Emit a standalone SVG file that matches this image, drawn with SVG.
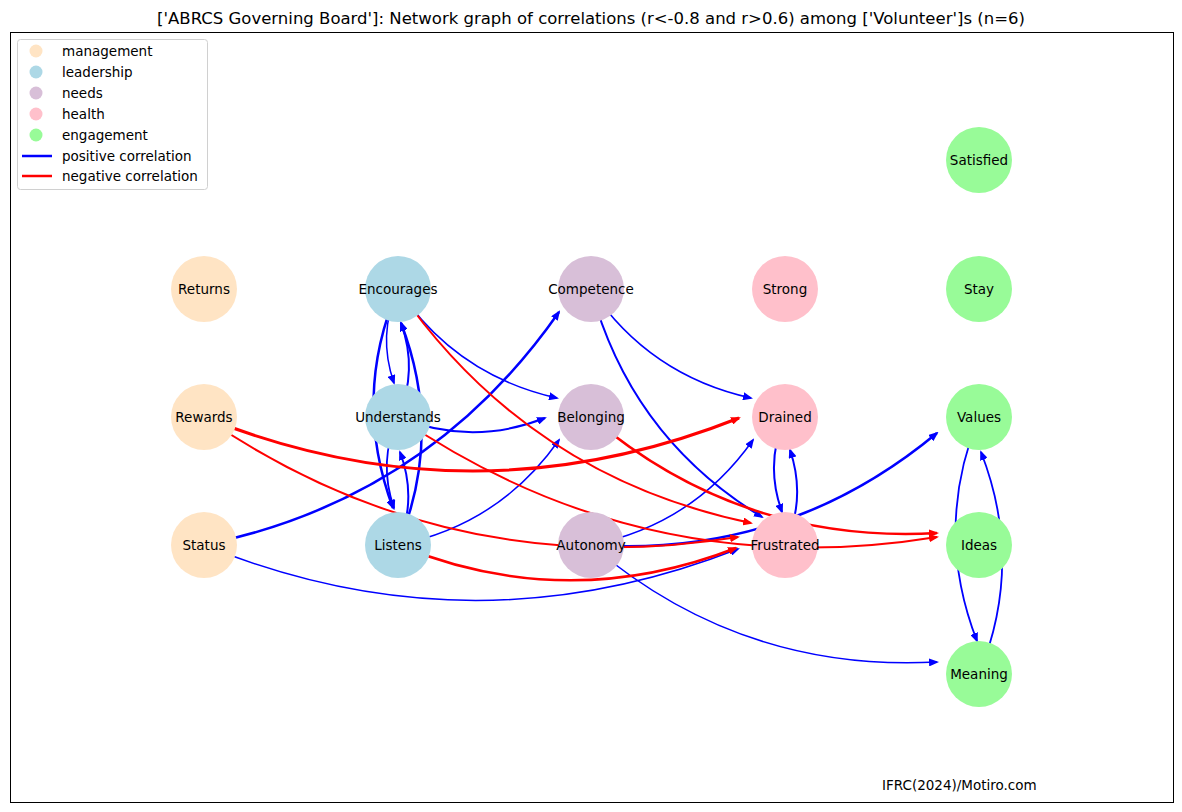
<svg xmlns="http://www.w3.org/2000/svg" width="1182" height="812" viewBox="0 0 1182 812">
<style>
.t{font-family:"DejaVu Sans","Liberation Sans",sans-serif;font-size:13.5px;fill:#000}
.nl{text-anchor:middle}
.p{fill:none;stroke:#0000ff}
.n{fill:none;stroke:#ff0000}
.pm{marker-end:url(#ab)}
.nm{marker-end:url(#ar)}
</style>
<defs>
<marker id="ab" markerUnits="userSpaceOnUse" viewBox="0 0 10 8" markerWidth="10" markerHeight="8" refX="8" refY="4" orient="auto"><path d="M0,0 L10,4 L0,8 z" fill="#0000ff"/></marker>
<marker id="ar" markerUnits="userSpaceOnUse" viewBox="0 0 10 8" markerWidth="10" markerHeight="8" refX="8" refY="4" orient="auto"><path d="M0,0 L10,4 L0,8 z" fill="#ff0000"/></marker>
</defs>
<rect width="1182" height="812" fill="#fff"/>
<text x="591" y="24" text-anchor="middle" font-family="DejaVu Sans, Liberation Sans, sans-serif" font-size="16.5px">['ABRCS Governing Board']: Network graph of correlations (r&lt;-0.8 and r&gt;0.6) among ['Volunteer']s (n=6)</text>
<rect x="10.5" y="32.5" width="1163" height="770" fill="none" stroke="#000" stroke-width="1"/>
<g id="edges">
<path class="p pm" stroke-width="2.5" d="M204,545 Q428.1,499.5 559,312"/>
<path class="p pm" stroke-width="1.5" d="M204,545 Q470.2,653.8 738,549"/>
<path class="p pm" stroke-width="1.5" d="M398,289 Q377.2,335.2 394,383"/>
<path class="p pm" stroke-width="2" d="M398,417 Q418.3,370.6 401,323"/>
<path class="p pm" stroke-width="2.5" d="M398,289 Q351.7,397.5 393,508"/>
<path class="p pm" stroke-width="2.5" d="M398,545 Q443.9,434.6 401,323"/>
<path class="p pm" stroke-width="1.8" d="M398,417 Q377.8,461.7 394,508"/>
<path class="p pm" stroke-width="2" d="M398,545 Q417.6,498.9 400,452"/>
<path class="p pm" stroke-width="1.5" d="M398,289 Q455.7,375.3 557,398"/>
<path class="p pm" stroke-width="2" d="M398,417 Q471.3,446.9 545,418"/>
<path class="p pm" stroke-width="1.5" d="M398,545 Q499.5,524.7 559,440"/>
<path class="p pm" stroke-width="1.5" d="M591,289 Q649.2,375.5 751,398"/>
<path class="p pm" stroke-width="2" d="M591,289 Q630.9,437.2 762,517"/>
<path class="p pm" stroke-width="1.5" d="M591,545 Q693,524.9 753,440"/>
<path class="p pm" stroke-width="2.5" d="M591,545 Q786.4,558.2 937,433"/>
<path class="p pm" stroke-width="1.5" d="M591,545 Q740.6,672.7 937,662"/>
<path class="p pm" stroke-width="2" d="M785,417 Q764.5,463.9 782,512"/>
<path class="p pm" stroke-width="2" d="M785,545 Q806.5,498.5 790,450"/>
<path class="p pm" stroke-width="1.8" d="M979,417 Q933.2,528.6 977,641"/>
<path class="p pm" stroke-width="1.8" d="M979,674 Q1024.4,563.4 981,452"/>
<path class="n nm" stroke-width="3" d="M204,417 Q471.3,524.5 739,418"/>
<path class="n nm" stroke-width="2" d="M204,417 Q447,583.8 738,537"/>
<path class="n nm" stroke-width="2" d="M398,289 Q527.7,476.6 751,523"/>
<path class="n nm" stroke-width="2" d="M398,417 Q643.5,584.8 937,537"/>
<path class="n nm" stroke-width="2.5" d="M591,417 Q740.8,544.2 937,533"/>
<path class="n nm" stroke-width="2.5" d="M398,545 Q566.4,614.1 736,548"/>
</g>
<g id="n-returns"><circle cx="204" cy="289" r="33" fill="#ffe4c4"/><text class="t nl" x="204" y="294">Returns</text></g>
<g id="n-rewards"><circle cx="204" cy="417" r="33" fill="#ffe4c4"/><text class="t nl" x="204" y="422">Rewards</text></g>
<g id="n-status"><circle cx="204" cy="545" r="33" fill="#ffe4c4"/><text class="t nl" x="204" y="550">Status</text></g>
<g id="n-encourages"><circle cx="398" cy="289" r="33" fill="#add8e6"/><text class="t nl" x="398" y="294">Encourages</text></g>
<g id="n-understands"><circle cx="398" cy="417" r="33" fill="#add8e6"/><text class="t nl" x="398" y="422">Understands</text></g>
<g id="n-listens"><circle cx="398" cy="545" r="33" fill="#add8e6"/><text class="t nl" x="398" y="550">Listens</text></g>
<g id="n-competence"><circle cx="591" cy="289" r="33" fill="#d8bfd8"/><text class="t nl" x="591" y="294">Competence</text></g>
<g id="n-belonging"><circle cx="591" cy="417" r="33" fill="#d8bfd8"/><text class="t nl" x="591" y="422">Belonging</text></g>
<g id="n-autonomy"><circle cx="591" cy="545" r="33" fill="#d8bfd8"/><text class="t nl" x="591" y="550">Autonomy</text></g>
<g id="n-strong"><circle cx="785" cy="289" r="33" fill="#ffc0cb"/><text class="t nl" x="785" y="294">Strong</text></g>
<g id="n-drained"><circle cx="785" cy="417" r="33" fill="#ffc0cb"/><text class="t nl" x="785" y="422">Drained</text></g>
<g id="n-frustrated"><circle cx="785" cy="545" r="33" fill="#ffc0cb"/><text class="t nl" x="785" y="550">Frustrated</text></g>
<g id="n-satisfied"><circle cx="979" cy="160" r="33" fill="#98fb98"/><text class="t nl" x="979" y="165">Satisfied</text></g>
<g id="n-stay"><circle cx="979" cy="289" r="33" fill="#98fb98"/><text class="t nl" x="979" y="294">Stay</text></g>
<g id="n-values"><circle cx="979" cy="417" r="33" fill="#98fb98"/><text class="t nl" x="979" y="422">Values</text></g>
<g id="n-ideas"><circle cx="979" cy="545" r="33" fill="#98fb98"/><text class="t nl" x="979" y="550">Ideas</text></g>
<g id="n-meaning"><circle cx="979" cy="674" r="33" fill="#98fb98"/><text class="t nl" x="979" y="679">Meaning</text></g>
<g id="legend">
<rect x="17.5" y="39.5" width="190" height="150" rx="3" fill="#fff" fill-opacity="0.8" stroke="#d0d0d0"/>
<circle cx="36" cy="51" r="6.5" fill="#ffe4c4"/><text class="t" x="62" y="56">management</text>
<circle cx="36" cy="72" r="6.5" fill="#add8e6"/><text class="t" x="62" y="77">leadership</text>
<circle cx="36" cy="93" r="6.5" fill="#d8bfd8"/><text class="t" x="62" y="98">needs</text>
<circle cx="36" cy="114" r="6.5" fill="#ffc0cb"/><text class="t" x="62" y="119">health</text>
<circle cx="36" cy="135" r="6.5" fill="#98fb98"/><text class="t" x="62" y="140">engagement</text>
<line x1="22" y1="156" x2="52" y2="156" stroke="#0000ff" stroke-width="2.5"/><text class="t" x="62" y="161">positive correlation</text>
<line x1="22" y1="176" x2="52" y2="176" stroke="#ff0000" stroke-width="2.5"/><text class="t" x="62" y="181">negative correlation</text>
</g>
<text class="t" x="882" y="790">IFRC(2024)/Motiro.com</text>
</svg>
